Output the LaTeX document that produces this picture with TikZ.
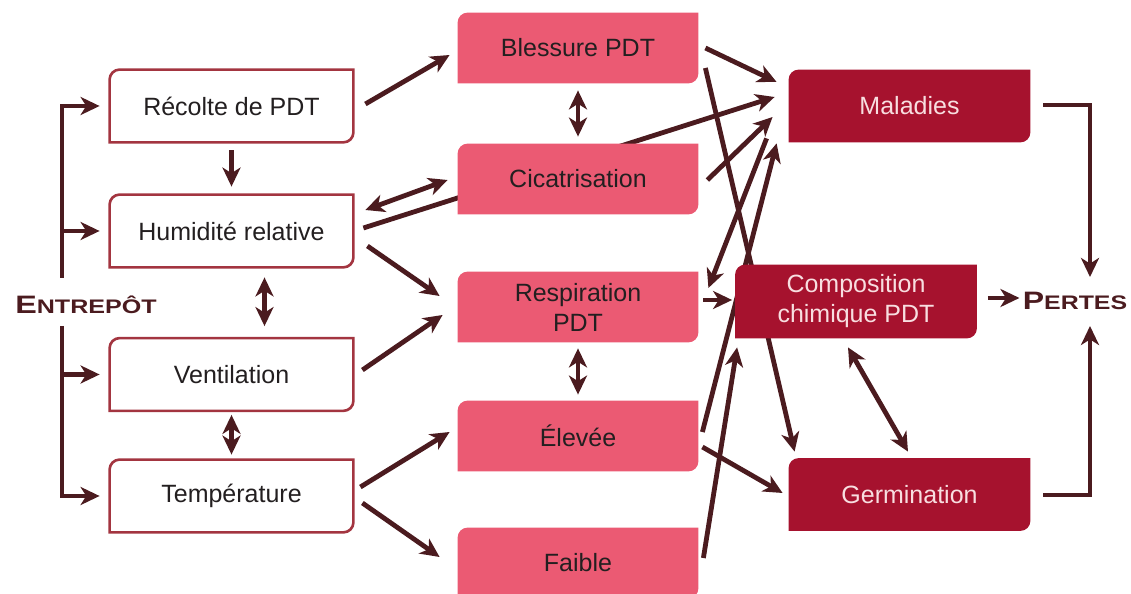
\documentclass[tikz,border=0pt]{standalone}
\usepackage{fontspec}
\setmainfont{Liberation Sans}
\usetikzlibrary{arrows.meta,calc}

\definecolor{maroon}{RGB}{75,27,31}
\definecolor{boxline}{RGB}{163,53,64}
\definecolor{rose}{RGB}{235,90,115}
\definecolor{wine}{RGB}{166,18,46}
\definecolor{palepink}{RGB}{248,222,224}
\definecolor{ink}{RGB}{35,31,32}

\pgfdeclarelayer{background}
\pgfdeclarelayer{boxes}
\pgfsetlayers{background,boxes,main}

% box with round top-left and bottom-right corners only
\newcommand\cutbox[2]{%
  \path[#1] ([yshift=-5pt]#2.north west) arc[start angle=180,end angle=90,radius=5pt]
    -- (#2.north east) -- ([yshift=5pt]#2.south east)
    arc[start angle=0,end angle=-90,radius=5pt] -- (#2.south west) -- cycle;}

\begin{document}
\begin{tikzpicture}[x=0.5pt,y=0.5pt,font=\fontsize{12.5}{15}\selectfont,
    lbox/.style={minimum width=121.5pt,minimum height=36pt,inner sep=0pt,text=ink},
    pbox/.style={minimum width=120pt,minimum height=35pt,inner sep=0pt,text=ink,align=center},
    dbox/.style={minimum width=120.5pt,minimum height=36pt,inner sep=0pt,text=palepink,align=center},
    tag/.style={inner sep=0pt,text=maroon,font=\bfseries},
    arr/.style={draw=maroon,line width=2.4pt,-{Stealth[length=9.5pt,width=9pt,inset=2.8pt]}},
    dbl/.style={arr,{Stealth[length=9.5pt,width=9pt,inset=2.8pt]}-{Stealth[length=9.5pt,width=9pt,inset=2.8pt]}}]

\useasboundingbox (0,0) rectangle (1131,594);

% storage side
\node[lbox] (rec) at (231.5,488) {Récolte de PDT};
\node[lbox] (hum) at (231.5,363) {Humidité relative};
\node[lbox] (ven) at (231.5,219.5) {Ventilation};
\node[lbox] (tem) at (231.5,98) {Température};
\node[tag] (ent) at (86,289) {\scalebox{1.28}[1]{\fontsize{12.6}{14}\selectfont E\fontsize{9.8}{12}\selectfont NTREPÔT}};
\coordinate (sp) at (62,0);

% tuber reactions
\node[pbox] (ble) at (578,546) {Blessure PDT};
\node[pbox] (cic) at (578,415) {Cicatrisation};
\node[pbox] (res) at (578,287) {Respiration\\PDT};
\node[pbox] (ele) at (578,158) {Élevée};
\node[pbox] (fai) at (578,31) {Faible};

% results
\node[dbox] (mal) at (909.5,488) {Maladies};
\node[dbox,minimum height=36.5pt] (com) at (856,292.5) {Composition\\chimique PDT};
\node[dbox] (ger) at (909.5,99.5) {Germination};
\node[tag] (per) at (1075,293) {\scalebox{1.27}[1]{\fontsize{12.6}{14}\selectfont P\fontsize{9.8}{12}\selectfont ERTES}};

\begin{pgfonlayer}{boxes}
  \foreach \n in {rec,hum,ven,tem} {\cutbox{draw=boxline,line width=1.3pt,fill=white}{\n}}
  \foreach \n in {ble,cic,res,ele,fai} {\cutbox{fill=rose}{\n}}
  \foreach \n in {mal,com,ger} {\cutbox{fill=wine}{\n}}
\end{pgfonlayer}

\begin{pgfonlayer}{background}
  \draw[arr,shorten >=5pt] ($(ent)+(-24,27)$) |- (rec.west);
  \draw[arr,shorten >=5pt] ($(ent)+(-24,-21)$) |- (tem.west);
  \foreach \n in {hum,ven}
    \draw[arr,shorten >=5pt] (\n.west -| sp) -- (\n.west);

  \draw[arr,shorten <=4pt,shorten >=4pt] (rec) -- (hum);
  \draw[dbl] ($(hum.south)+(33,-10)$) -- ($(ven.north)+(33,12)$);
  \draw[dbl,shorten <=2pt,shorten >=2.5pt] (ven) -- (tem);

  \draw[arr] ($(rec.east)+(12,2)$) -- ($(ble.west)+(-8,-7)$);
  \draw[dbl] ($(hum.east)+(12,21)$) -- ($(cic.west)+(-10,-1)$);
  \draw[arr] ($(hum.east)+(10,3)$) -- ($(mal.west)+(-14,9)$);
  \draw[arr] ($(hum.east)+(14,-15)$) -- ($(res.west)+(-18,11)$);
  \draw[arr] ($(ven.east)+(9,4.5)$) -- ($(res.west)+(-15,-8)$);
  \draw[arr] ($(tem.east)+(7,9)$) -- ($(ele.west)+(-8,4)$);
  \draw[arr] ($(tem.east)+(9,-7)$) -- ($(fai.west)+(-18,6)$);

  \draw[dbl,shorten <=3.5pt,shorten >=3.5pt] (ble) -- (cic);
  \draw[dbl,shorten <=3pt,shorten >=3pt] (res) -- (ele);

  \draw[arr] ($(ble.east)+(7,0)$) -- ($(mal.west)+(-12,24)$);
  \draw[arr] ($(cic.east)+(9,-1)$) -- ($(mal.west)+(-16,-11)$);
  \draw[arr] ($(ble.east)+(7,-20)$) -- ($(ger.north west)+(6,6.5)$);
  \draw[arr] ($(mal.south west)+(-22,4)$) -- ($(res.east)+(10,19)$);
  \draw[arr] ($(ele.east)+(4,4)$) -- ($(mal.south west)+(-12,-1)$);
  \draw[arr] ($(fai.east)+(5,5)$) -- ($(com.south west)+(2,-9)$);
  \draw[arr] ($(res.east)+(5,7)$) -- ($(com.west)+(-3,1.5)$);
  \draw[arr] ($(ele.east)+(4,-11)$) -- ($(ger.west)+(-6,1.5)$);
  \draw[dbl] ($(com.south)+(-8,-9)$) -- ($(ger.north)+(-1.5,6.5)$);

  \draw[arr] ($(com.east)+(11,3.5)$) -- ($(per.west)+(-3,3)$);
  \draw[arr] ($(mal.east)+(13,1)$) -| ($(per)+(15,24)$);
  \draw[arr] ($(ger.east)+(13,-0.5)$) -| ($(per)+(15,-25)$);
\end{pgfonlayer}
\end{tikzpicture}
\end{document}
